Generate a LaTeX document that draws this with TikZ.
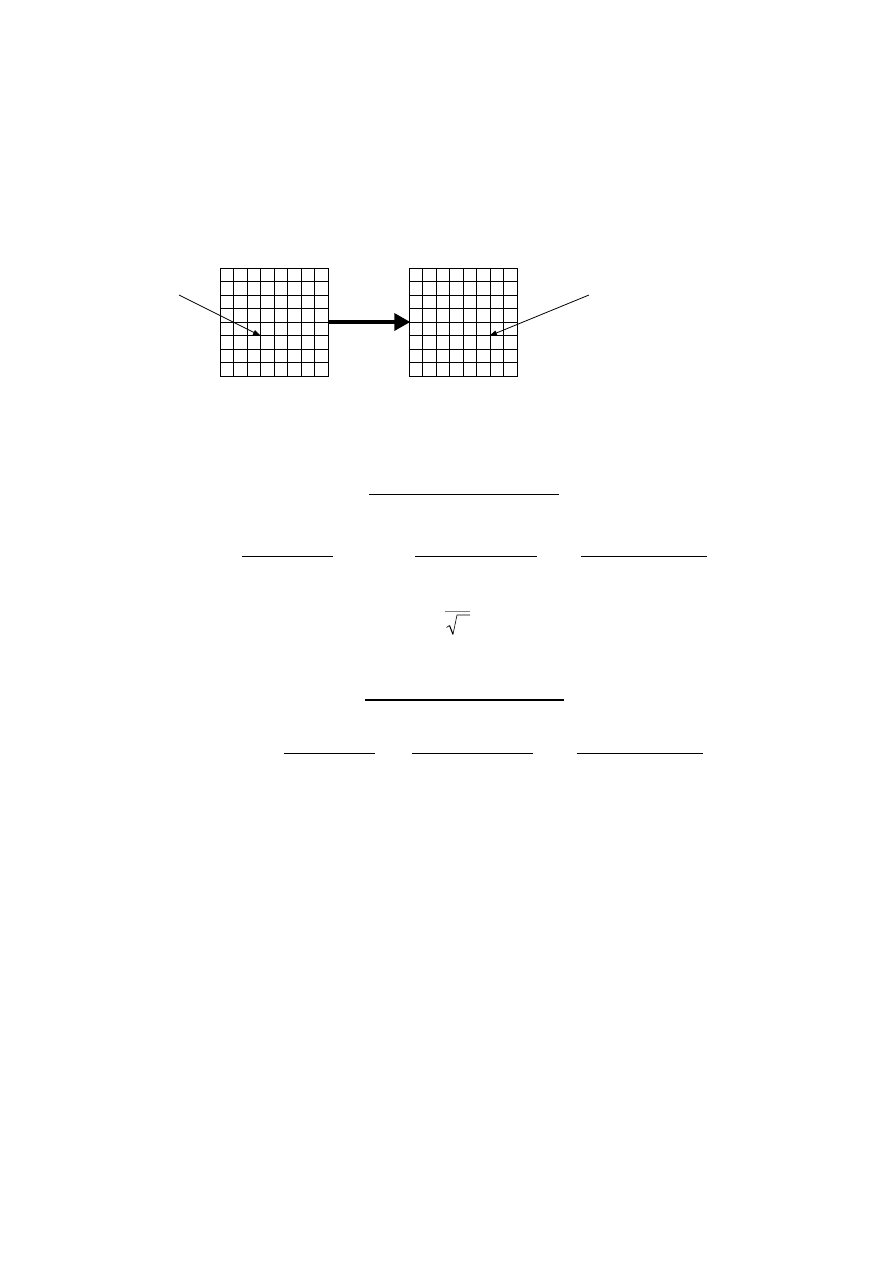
\documentclass[tikz,border=0pt]{standalone}
\usetikzlibrary{arrows.meta,calc}
\begin{document}
\begin{tikzpicture}[x=1pt,y=-1pt,
  gridbox/.style={draw, line width=0.9pt, minimum width=108pt, minimum height=108pt, inner sep=0pt, outer sep=0pt},
  thinarrow/.style={line width=0.8pt, -{Triangle[length=8pt,width=5pt]}},
  thickarrow/.style={line width=3.6pt, -{Triangle[length=16pt,width=17pt]}, shorten >=-1pt},
  bar/.style={line width=1.1pt}]
\useasboundingbox (0,0) rectangle (893,1263);
\node[gridbox] (g1) at (274,322) {};
\node[gridbox] (g2) at (463.3,322) {};
\foreach \g in {g1,g2}{
  \foreach \i in {1,...,7}{
    \draw[line width=0.9pt] ($(\g.north west)+(\i*13.5,0)$) -- ($(\g.south west)+(\i*13.5,0)$);
    \draw[line width=0.9pt] ($(\g.north west)+(0,\i*13.5)$) -- ($(\g.north east)+(0,\i*13.5)$);
  }
}
\draw[thickarrow] (g1.east) -- (g2.west);
\coordinate (a1) at (179,295);
\coordinate (t1) at (261,336);
\coordinate (a2) at (589,295);
\coordinate (t2) at (489,336);
\draw[thinarrow] (a1) -- (t1);
\draw[thinarrow] (a2) -- (t2);
% fraction bars
\coordinate (l1a) at (369,494.3); \coordinate (l1b) at (559,494.3);
\coordinate (l2a) at (242.3,556.3); \coordinate (l2b) at (333,556.3);
\coordinate (l3a) at (415.3,556.3); \coordinate (l3b) at (537,556.3);
\coordinate (l4a) at (581.3,556.3); \coordinate (l4b) at (707,556.3);
\coordinate (l5a) at (365,700); \coordinate (l5b) at (564,700);
\coordinate (l6a) at (284,753.3); \coordinate (l6b) at (375,753.3);
\coordinate (l7a) at (411.7,753.3); \coordinate (l7b) at (533.3,753.3);
\coordinate (l8a) at (576.7,753.3); \coordinate (l8b) at (702.7,753.3);
\foreach \k in {1,...,8}{\draw[bar] (l\k a) -- (l\k b);}
% radical
\coordinate (s0) at (445,611.7); \coordinate (s1) at (470,611.7);
\draw[line width=0.8pt, gray] (s0) -- (s1);
\coordinate (r0) at (446.5,627.5);
\coordinate (r1) at (449.5,625.5);
\coordinate (r2) at (453,634.3);
\coordinate (r3) at (457,615);
\coordinate (r4) at (470,615);
\draw[line width=0.6pt] (r0) -- (r1);
\draw[line width=1.1pt] (r1) -- (r2);
\draw[line width=0.6pt] (r2) -- (r3) -- (r4);
\end{tikzpicture}
\end{document}
